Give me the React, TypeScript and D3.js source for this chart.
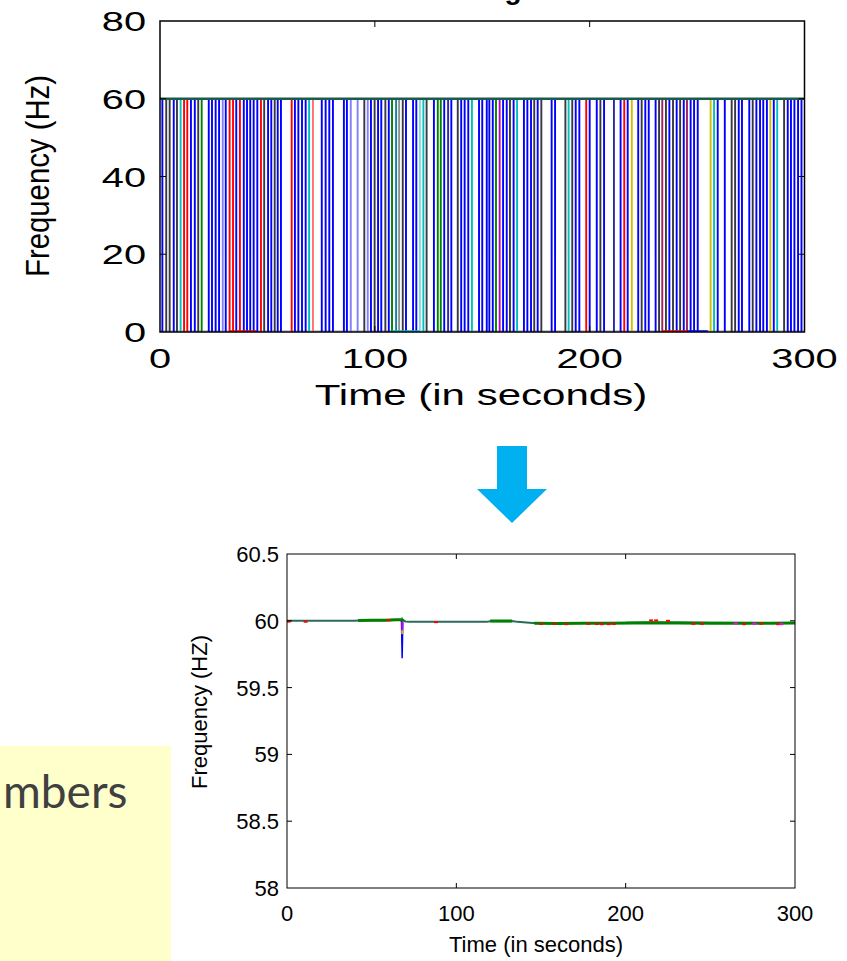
import React from 'react';
import * as d3 from 'd3';

// ---------- Top chart: raw data with dropouts to 0 ----------
const dropTimes = [
  1.1, 2.9, 4.5, 6.4, 7.9, 9.6, 11.2, 12.7, 14.4, 16.2, 17.8, 19.4, 22.7, 24.2, 25.9, 27.5, 29.2, 30.6, 32.4, 34.0,
  35.5, 37.2, 39.0, 40.5, 42.0, 43.6, 45.3, 47.0, 48.5, 50.3, 51.8, 53.4, 54.8, 56.3, 61.3, 62.8, 64.4, 66.1, 67.8, 69.4, 71.2,
  75.3, 77.1, 78.8, 80.5, 85.6, 87.0, 88.8, 92.0, 95.1, 96.7, 98.2, 99.9, 101.5, 103.0, 104.9, 106.5, 108.0, 109.9, 111.3,
  113.0, 114.5, 117.8, 119.3, 121.0, 122.6, 124.1, 127.5, 129.3, 130.7, 132.3, 134.1, 135.6, 138.6, 140.2, 141.8, 143.5,
  145.2, 148.5, 150.0, 152.1,
  153.3, 154.9, 156.4, 158.1, 159.7, 161.4, 162.9, 164.6, 166.2, 169.4, 171.0, 172.7, 174.2, 175.8, 177.5, 182.3, 183.9,
  188.7, 190.2, 191.9, 193.5, 195.2, 198.4, 200.0, 203.3, 205.0, 206.7, 211.3, 214.4, 216.1, 217.7, 219.6, 222.6, 224.2,
  225.9, 227.5,
  230.7, 232.3, 233.8, 235.5, 237.1, 238.8, 240.5, 242.1, 243.8, 245.3, 247.0, 248.6, 250.3, 256.3, 257.9, 259.6, 262.9,
  266.1, 267.7, 269.4, 270.9, 274.3, 275.9, 277.6, 279.3, 280.8, 282.5, 284.1, 285.7, 287.3, 290.5, 292.2, 293.7, 295.3,
  297.0, 298.6,
];
const dropColors = [
  'b', 'k', 'k', 'b', 'k', 'c', 'r', 'r', 'b', 'b', 'k', 'g', 'b', 'b', 'b', 'b', 'lb', 'b', 'r', 'r',
  'b', 'r', 'b', 'b', 'b', 'b', 'b', 'r', 'k', 'b', 'b', 'k', 'b', 'b', 'r', 'b', 'b', 'b', 'b', 'c', 'sr',
  'b', 'b', 'b', 'b', 'b', 'b', 'lb', 'lb', 'k', 'lb', 'b', 'k', 'b', 'b', 'k', 'b', 'g', 't', 'lk',
  'k', 'b', 'b', 'b', 'lc', 'c', 'k', 'b', 'g', 'g', 'b', 'db', 'b', 'k', 'b', 'b', 'b',
  'c', 'b', 'b', 'b',
  'b', 'b', 'g', 'm', 'b', 'b', 'k', 'b', 'c', 'b', 'b', 'b', 'k', 'b', 'k', 'b', 'b',
  'k', 'c', 'k', 'b', 'b', 'r', 'b', 'b', 'k', 'b', 'db', 'b', 'r', 'b', 'y', 'b', 'k',
  'b', 'b',
  'b', 'k', 'dr', 'k', 'b', 'k', 'b', 'k', 'b', 'dr', 'b', 'b', 'b', 'y', 'c', 'b', 'b',
  'k', 'k', 'b', 'b', 'b', 'k', 'b', 'b', 'b', 'b', 'y', 'b', 'c', 'k', 'b', 'b', 'b',
  'b', 'b',
];
// segments lying along 0 Hz (consecutive zero samples)
const zeroSegStart = [32.4, 108.0, 233.8, 245.3];
const zeroSegEnd = [45.0, 121.0, 245.3, 255.0];
const zeroSegColor = ['r', 'c', 'r', 'b'];

const topYTicks = [0, 20, 40, 60, 80];
const topXTicks = [0, 100, 200, 300];

// ---------- Bottom chart: cleaned data ----------
const baseT = [0, 40, 42, 55, 66, 68, 70, 72, 118, 120, 134, 136, 145, 200, 215, 250, 300];
const baseV = [60.0, 60.0, 60.003, 60.004, 60.006, 60.006, 59.995, 59.992, 59.992, 59.997, 59.997, 59.992, 59.983, 59.985, 59.99, 59.985, 59.984];
const greenT = [42, 50, 58, 64, 67, 69, 120, 126, 133, 146, 160, 175, 190, 205, 230, 250, 270, 285, 300];
const greenV = [60.003, 60.005, 60.004, 60.007, 60.008, 60.0, 59.998, 59.999, 59.998, 59.981, 59.98, 59.982, 59.981, 59.984, 59.983, 59.981, 59.982, 59.981, 59.983];
const redT = [1, 11, 60, 88, 150, 158, 165, 178, 183, 186, 190, 193, 215, 218, 225, 240, 245, 270, 280, 290];
const redV = [59.994, 59.993, 60.004, 59.99, 59.976, 59.977, 59.975, 59.977, 59.976, 59.975, 59.975, 59.976, 60.003, 60.003, 60.0, 59.977, 59.977, 59.975, 59.978, 59.975];
const magT = [265, 276, 292];
const magV = [59.979, 59.978, 59.975];
const spikeT = [67.6, 68.0, 68.4];
const spikeV = [60.0, 59.72, 59.99];

const botYTicks = [58, 58.5, 59, 59.5, 60, 60.5];
const botXTicks = [0, 100, 200, 300];

const palette: Record<string, string> = {
  b: '#0000ff', k: '#383842', c: '#00bfbf', r: '#ff0000', g: '#008000', m: '#bf00bf', y: '#c8c000',
  lb: '#8080ff', lc: '#80dede', lk: '#909090', db: '#2a2aa8', dr: '#a0205a', t: '#107fa0', sr: '#ff7070',
};

const FONT = 'Liberation Sans, Arial, Helvetica, sans-serif';

export default function App() {
  const tx = d3.scaleLinear().domain([0, 300]).range([160, 804.5]);
  const ty = d3.scaleLinear().domain([0, 80]).range([332, 21]);
  const bx = d3.scaleLinear().domain([0, 300]).range([287, 795]);
  const by = d3.scaleLinear().domain([58, 60.5]).range([888, 554]);

  const mk = (T: number[], V: number[]) =>
    d3.line<number>().x((d) => bx(d)).y((_, i) => by(V[i]))(T) || '';

  return (
    <div style={{ position: 'absolute', left: 0, top: 0, width: 847, height: 961, background: '#fff' }}>
      <svg width={847} height={961} style={{ display: 'block' }}>
        <defs>
          <clipPath id="topClip">
            <rect x={tx(0)} y={ty(80)} width={tx(300) - tx(0)} height={ty(0) - ty(80)} />
          </clipPath>
          <clipPath id="botClip">
            <rect x={bx(0)} y={by(60.5)} width={bx(300) - bx(0)} height={by(58) - by(60.5)} />
          </clipPath>
        </defs>

        {/* cut-off title (only the descender shows, as in the reference) */}
        <text x={464} y={-1} fontFamily={FONT} fontWeight="bold" fontSize={28} fill="#000">Original Data</text>

        {/* ===== Top chart ===== */}
        <rect x={tx(0)} y={ty(80)} width={tx(300) - tx(0)} height={ty(0) - ty(80)} fill="#fff" />
        <g clipPath="url(#topClip)">
          <line x1={tx(0)} x2={tx(300)} y1={ty(0) - 1} y2={ty(0) - 1} stroke="#c8c8c8" strokeWidth={2} />
          {dropTimes.map((t, i) => (
            <line key={i} x1={tx(t)} x2={tx(t)} y1={ty(60)} y2={ty(0)} stroke={palette[dropColors[i]]} strokeWidth={1.9} />
          ))}
          {zeroSegStart.map((s, i) => (
            <line key={'z' + i} x1={tx(s)} x2={tx(zeroSegEnd[i])} y1={ty(0) - 1} y2={ty(0) - 1} stroke={palette[zeroSegColor[i]]} strokeWidth={1.5} />
          ))}
          <line x1={tx(0)} x2={tx(300)} y1={ty(60)} y2={ty(60)} stroke="#1d5a4c" strokeWidth={2.6} />
        </g>
        <rect x={tx(0)} y={ty(80)} width={tx(300) - tx(0)} height={ty(0) - ty(80)} fill="none" stroke="#000" strokeWidth={1.5} />
        {topYTicks.slice(1, 4).map((v) => (
          <g key={'yt' + v}>
            <line x1={tx(0)} x2={tx(0) + 6} y1={ty(v)} y2={ty(v)} stroke="#000" strokeWidth={1} />
            <line x1={tx(300) - 6} x2={tx(300)} y1={ty(v)} y2={ty(v)} stroke="#000" strokeWidth={1} />
          </g>
        ))}
        {topXTicks.slice(1, 3).map((v) => (
          <g key={'xt' + v}>
            <line x1={tx(v)} x2={tx(v)} y1={ty(80)} y2={ty(80) + 6} stroke="#000" strokeWidth={1} />
            <line x1={tx(v)} x2={tx(v)} y1={ty(0) - 6} y2={ty(0)} stroke="#000" strokeWidth={1} />
          </g>
        ))}
        {topYTicks.map((v) => (
          <text key={'yl' + v} transform={`translate(146,${ty(v) + 10}) scale(1.42,1)`} textAnchor="end" fontFamily={FONT} fontSize={28} fill="#000">{v}</text>
        ))}
        {topXTicks.map((v) => (
          <text key={'xl' + v} transform={`translate(${tx(v)},368) scale(1.42,1)`} textAnchor="middle" fontFamily={FONT} fontSize={28} fill="#000">{v}</text>
        ))}
        <text transform="translate(481,405) scale(1.45,1)" textAnchor="middle" fontFamily={FONT} fontSize={29} fill="#000">Time (in seconds)</text>
        <text transform="translate(49,176) rotate(-90)" textAnchor="middle" fontFamily={FONT} fontSize={33} fill="#000" textLength={202} lengthAdjust="spacingAndGlyphs">Frequency (Hz)</text>

        {/* ===== Arrow ===== */}
        <path d="M497,446 L527,446 L527,489 L547,489 L512,523 L477,489 L497,489 Z" fill="#00b0f0" />

        {/* ===== Yellow note box ===== */}
        <rect x={0} y={746} width={171} height={215} fill="#ffffcc" />
        <text x={3} y={808} fontFamily="Lato, 'Open Sans', sans-serif" fontSize={46} fill="#404040">mbers</text>

        {/* ===== Bottom chart ===== */}
        <rect x={bx(0)} y={by(60.5)} width={bx(300) - bx(0)} height={by(58) - by(60.5)} fill="#fff" />
        <g clipPath="url(#botClip)" fill="none">
          <path d={mk(baseT, baseV)} stroke="#2b6b5c" strokeWidth={2} />
          <path d={mk(greenT.slice(0, 6), greenV.slice(0, 6))} stroke="#008000" strokeWidth={3} />
          <path d={mk(greenT.slice(6, 9), greenV.slice(6, 9))} stroke="#008000" strokeWidth={3} />
          <path d={mk(greenT.slice(9), greenV.slice(9))} stroke="#008000" strokeWidth={3} />
          {redT.map((t, i) => (
            <line key={'r' + i} x1={bx(t) - 2} x2={bx(t) + 2} y1={by(redV[i])} y2={by(redV[i])} stroke="#ff0000" strokeWidth={2} />
          ))}
          {magT.map((t, i) => (
            <line key={'m' + i} x1={bx(t) - 2} x2={bx(t) + 2} y1={by(magV[i])} y2={by(magV[i])} stroke="#ff00ff" strokeWidth={2} />
          ))}
          <path d={mk(spikeT, spikeV)} stroke="#0000ff" strokeWidth={1.5} />
          <line x1={bx(68)} x2={bx(68)} y1={by(59.995)} y2={by(59.93)} stroke="#d000d0" strokeWidth={1.8} />
          <line x1={bx(68)} x2={bx(68)} y1={by(59.93)} y2={by(59.9)} stroke="#c8c000" strokeWidth={1.8} />
          <line x1={bx(68)} x2={bx(68)} y1={by(60.0)} y2={by(60.025)} stroke="#008000" strokeWidth={1.5} />
        </g>
        <rect x={bx(0)} y={by(60.5)} width={bx(300) - bx(0)} height={by(58) - by(60.5)} fill="none" stroke="#000" strokeWidth={1} />
        {botYTicks.slice(1, 5).map((v) => (
          <g key={'byt' + v}>
            <line x1={bx(0)} x2={bx(0) + 5} y1={by(v)} y2={by(v)} stroke="#000" />
            <line x1={bx(300) - 5} x2={bx(300)} y1={by(v)} y2={by(v)} stroke="#000" />
          </g>
        ))}
        {botXTicks.slice(1, 3).map((v) => (
          <g key={'bxt' + v}>
            <line x1={bx(v)} x2={bx(v)} y1={by(60.5)} y2={by(60.5) + 5} stroke="#000" />
            <line x1={bx(v)} x2={bx(v)} y1={by(58) - 5} y2={by(58)} stroke="#000" />
          </g>
        ))}
        {botYTicks.map((v) => (
          <text key={'byl' + v} x={279} y={by(v) + 8} textAnchor="end" fontFamily={FONT} fontSize={22} fill="#000">{v}</text>
        ))}
        {botXTicks.map((v) => (
          <text key={'bxl' + v} x={bx(v)} y={921} textAnchor="middle" fontFamily={FONT} fontSize={22} fill="#000">{v}</text>
        ))}
        <text x={536} y={952} textAnchor="middle" fontFamily={FONT} fontSize={22} fill="#000">Time (in seconds)</text>
        <text transform="translate(207,712) rotate(-90)" textAnchor="middle" fontFamily={FONT} fontSize={22} fill="#000">Frequency (HZ)</text>
      </svg>
    </div>
  );
}
